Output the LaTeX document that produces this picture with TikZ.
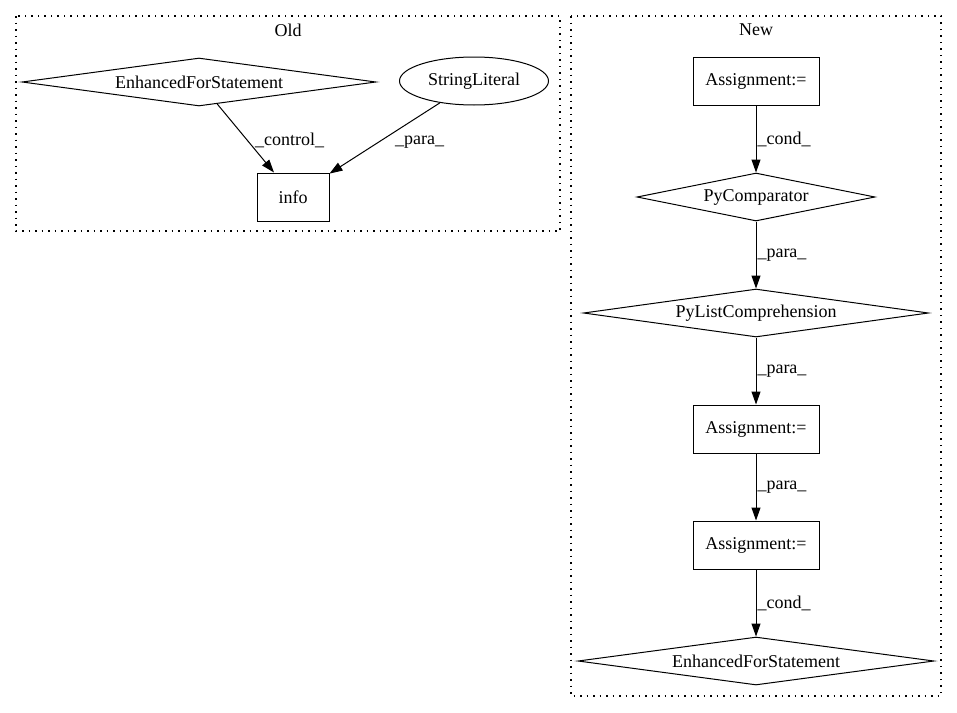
\documentclass[tikz,border=0pt]{standalone}
\usepackage{fontspec}
\setmainfont{Liberation Serif}
\usetikzlibrary{shapes.geometric,arrows.meta}
\begin{document}
\begin{tikzpicture}[x=1pt,y=1pt,
  every node/.style={font=\fontsize{18}{21}\selectfont, inner sep=0pt},
  boxnode/.style={draw, line width=1pt, minimum width=126pt, minimum height=48pt},
  dnode/.style={draw, diamond, line width=1pt, minimum height=48pt, shape aspect=7},
  cluster/.style={line width=1.2pt, dash pattern=on 1.5pt off 5pt},
  edge/.style={line width=1pt, -{Triangle[length=13pt,width=9pt]}},
  elabel/.style={right, inner sep=1pt}]
\useasboundingbox (0,0) rectangle (957,-712);
% clusters
\draw[cluster] (16,-16) rectangle (560,-231);
\draw[cluster] (571,-16) rectangle (941,-696);
\node (oldlbl) at (288,-30) {Old};
\node (newlbl) at (756,-30) {New};
% Old
\node[dnode, minimum width=354pt] (oefs) at (199,-82) {EnhancedForStatement};
\node[draw, ellipse, line width=1pt, minimum width=149pt, minimum height=48pt] (str) at (474,-81) {StringLiteral};
\node[boxnode, minimum width=72pt] (info) at (293,-197) {info};
\draw[edge] (oefs) -- node[elabel, midway, xshift=8pt, yshift=-2pt] {\_control\_} ([xshift=-19pt]info.north);
\draw[edge] (str) -- node[elabel, midway, xshift=9pt, yshift=-4pt] {\_para\_} (info);
% New
\node[boxnode] (a1) at (756,-81) {Assignment:=};
\node[dnode, minimum width=238pt, shape aspect=5] (pc) at (756,-197) {PyComparator};
\node[dnode, minimum width=345pt] (plc) at (756,-313) {PyListComprehension};
\node[boxnode] (a2) at (756,-429) {Assignment:=};
\node[boxnode] (a3) at (756,-545) {Assignment:=};
\node[dnode, minimum width=356pt] (nefs) at (756,-661) {EnhancedForStatement};
\draw[edge] (a1) -- node[elabel] {\_cond\_} (pc);
\draw[edge] (pc) -- node[elabel] {\_para\_} (plc);
\draw[edge] (plc) -- node[elabel] {\_para\_} (a2);
\draw[edge] (a2) -- node[elabel] {\_para\_} (a3);
\draw[edge] (a3) -- node[elabel] {\_cond\_} (nefs);
\end{tikzpicture}
\end{document}
